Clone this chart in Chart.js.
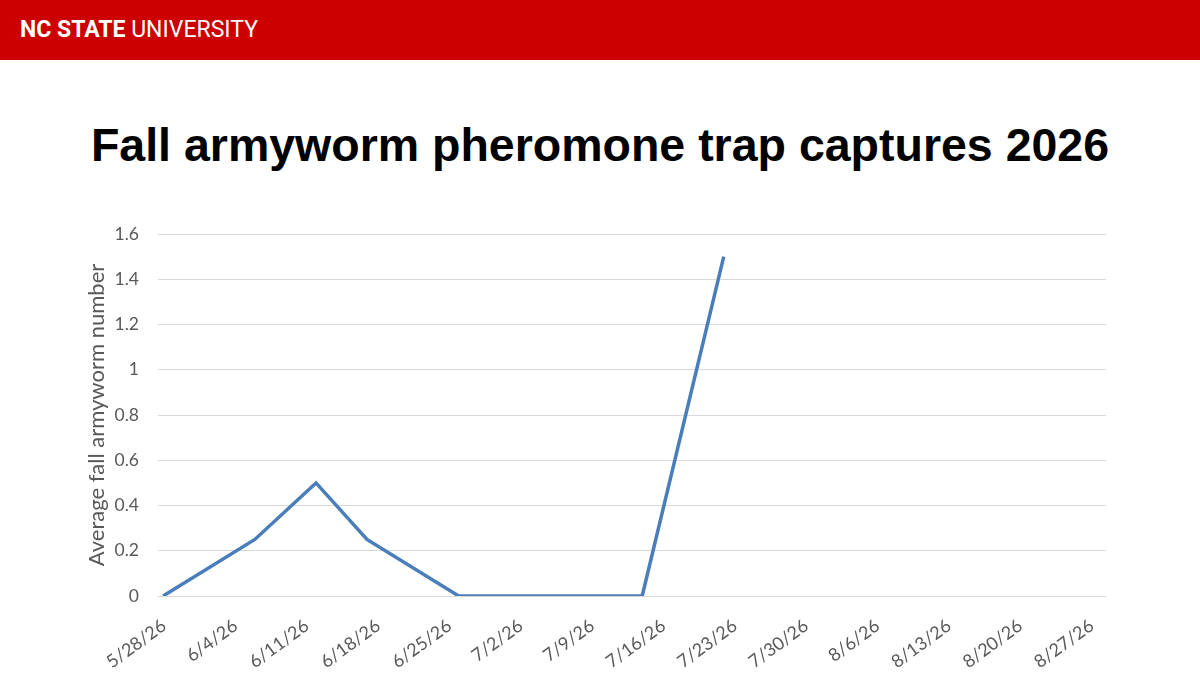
<!DOCTYPE html>
<html>
<head>
<meta charset="utf-8">
<script src="https://cdn.jsdelivr.net/npm/chart.js@4"></script>
<style>
  body { margin: 0; width: 1200px; height: 675px; background: #fff; overflow: hidden; position: relative; }
  #bar {
    position: absolute; left: 0; top: 0; width: 1200px; height: 60px;
    background: #cc0000; color: #fff;
    font-family: Roboto, "Liberation Sans", sans-serif; font-size: 23px; line-height: 60px;
  }
  #bar span { position: absolute; left: 20px; top: 0; white-space: nowrap; }
  #title {
    position: absolute; left: 0; top: 122px; width: 1200px; text-align: center;
    font-family: "Liberation Sans", Arial, sans-serif; font-weight: bold;
    font-size: 46.5px; line-height: 47px; color: #000;
  }
  #wrap { position: absolute; left: 0; top: 0; width: 1200px; height: 675px; }
</style>
</head>
<body>
<div id="bar"><span><b>NC STATE</b> UNIVERSITY</span></div>
<div id="title">Fall armyworm pheromone trap captures 2026</div>
<div id="wrap"><canvas id="chart"></canvas></div>
<script>
// trap dates and average captures
const dates = ["5/28/26", "6/6/26", "6/12/26", "6/17/26", "6/26/26", "7/14/26", "7/22/26"];
const captures = [0, 0.25, 0.5, 0.25, 0, 0, 1.5];

// weekly tick labels on the date axis
const tickLabels = ["5/28/26", "6/4/26", "6/11/26", "6/18/26", "6/25/26", "7/2/26", "7/9/26",
  "7/16/26", "7/23/26", "7/30/26", "8/6/26", "8/13/26", "8/20/26", "8/27/26"];

// days since 5/28/26
function dayNum(s) {
  const p = s.split("/").map(Number);
  return (Date.UTC(2000 + p[2], p[0] - 1, p[1]) - Date.UTC(2026, 4, 28)) / 86400000;
}

const points = dates.map((d, i) => ({ x: dayNum(d), y: captures[i] }));
const tickDays = tickLabels.map(dayNum);

Chart.defaults.font.family = "Lato, 'Open Sans', sans-serif";
Chart.defaults.color = "#595959";

new Chart(document.getElementById("chart"), {
  type: "line",
  data: {
    datasets: [
      {
        label: "Average fall armyworm number",
        data: points,
        borderColor: "#4a7ebb",
        borderWidth: 3.5,
        pointRadius: 0,
        tension: 0,
        fill: false,
      },
    ],
  },
  options: {
    responsive: true,
    maintainAspectRatio: false,
    animation: false,
    layout: { padding: { left: 81, top: 234, right: 94, bottom: 0 } },
    plugins: { legend: { display: false }, tooltip: { enabled: false } },
    scales: {
      x: {
        type: "linear",
        min: -0.5,
        max: 92.5,
        afterBuildTicks: (scale) => {
          scale.ticks = tickDays.map((v) => ({ value: v }));
        },
        afterFit: (scale) => {
          scale.height = 79;
        },
        grid: { display: false },
        border: { display: false },
        ticks: {
          autoSkip: false,
          minRotation: 36,
          maxRotation: 36,
          padding: 11,
          labelOffset: 1,
          font: { size: 18 },
          callback: (v, i) => tickLabels[i],
        },
      },
      y: {
        min: 0,
        max: 1.6,
        afterFit: (scale) => {
          scale.width = 77;
        },
        grid: { color: "#d9d9d9", lineWidth: 1, drawTicks: false },
        border: { display: false },
        ticks: {
          stepSize: 0.2,
          padding: 19,
          font: { size: 17.5 },
          callback: (v) => String(Math.round(v * 10) / 10),
        },
        title: {
          display: true,
          text: "Average fall armyworm number",
          font: { size: 22 },
          color: "#595959",
          padding: { top: 3, bottom: 4 },
        },
      },
    },
  },
});
</script>
</body>
</html>
